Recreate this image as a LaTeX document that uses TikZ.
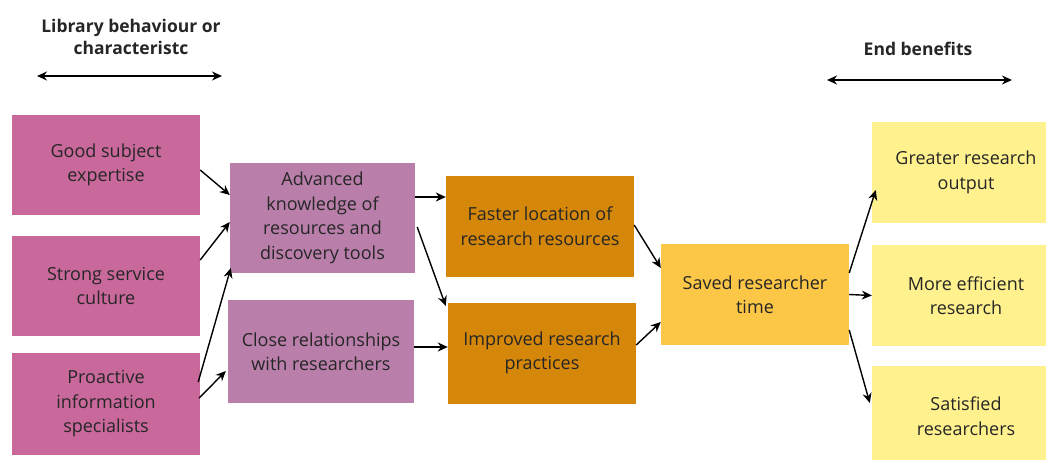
\documentclass[tikz,border=0pt]{standalone}
\usepackage{fontspec}
\setmainfont{Open Sans}
\usetikzlibrary{arrows.meta}
\definecolor{libpink}{HTML}{C8689B}
\definecolor{libmauve}{HTML}{B97FAA}
\definecolor{liborange}{HTML}{D5870A}
\definecolor{libgold}{HTML}{FCC647}
\definecolor{libyellow}{HTML}{FFF28E}
\begin{document}
\begin{tikzpicture}[x=1pt,y=-1pt,>={Stealth[length=10pt,width=9pt]},
		box/.style={minimum width=188pt,minimum height=101pt,inner sep=0pt,align=center,
			text=black!85,font=\fontsize{18}{24.5}\selectfont},
		arr/.style={->,line width=1.4pt},
		head/.style={align=center,font=\bfseries\fontsize{17.5}{22}\selectfont,text=black!85}]
	\clip (0,0) rectangle (1046,459);
	% Headers
	\node[head] (hleft) at (131,37) {Library behaviour or\\characteristc};
	\node[head] (hright) at (918,49) {End benefits};
	\draw[<->,line width=1.4pt] (37,76) -- (222,76);
	\draw[<->,line width=1.4pt] (827,80) -- (1012,80);
	% Library behaviour
	\node[box,fill=libpink,minimum height=100pt] (good) at (106,165) {Good subject\\expertise};
	\node[box,fill=libpink,minimum height=100pt] (strong) at (106,286) {Strong service\\culture};
	\node[box,fill=libpink,minimum height=102pt] (proact) at (106,404) {Proactive\\information\\specialists};
	% Intermediate outcomes
	\node[box,fill=libmauve,minimum width=185pt,minimum height=110pt] (adv) at (322.5,218) {Advanced\\knowledge of\\resources and\\discovery tools};
	\node[box,fill=libmauve,minimum width=186pt,minimum height=103pt] (close) at (321,351.5) {Close relationships\\with researchers};
	\node[box,fill=liborange] (faster) at (540,226) {Faster location of\\research resources};
	\node[box,fill=liborange] (improved) at (542,353) {Improved research\\practices};
	\node[box,fill=libgold] (saved) at (755,294.5) {Saved researcher\\time};
	% End benefits
	\node[box,fill=libyellow] (greater) at (966,172.5) {Greater research\\output};
	\node[box,fill=libyellow] (more) at (966,295.5) {More efficient\\research};
	\node[box,fill=libyellow] (satisf) at (966,416) {Satisfied\\researchers};
	% Connectors
	\draw[arr] ([yshift=-5pt]good.east) -- ([yshift=23pt]adv.west);
	\draw[arr] ([yshift=26pt]strong.east) -- ([yshift=-4pt]adv.west);
	\draw[arr] ([shift={(-2pt,22pt)}]proact.east) -- ([shift={(1pt,-50pt)}]adv.west);
	\draw[arr] ([shift={(-1pt,6pt)}]proact.east) -- ([shift={(-2pt,-19.5pt)}]close.west);
	\draw[arr] ([yshift=21pt]adv.east) -- ([yshift=29pt]faster.west);
	\draw[arr] ([shift={(2pt,-9pt)}]adv.east) -- ([shift={(-2pt,47pt)}]improved.west);
	\draw[arr] ([yshift=4.5pt]close.east) -- ([yshift=6pt]improved.west);
	\draw[arr] ([yshift=1pt]faster.east) -- ([yshift=26.5pt]saved.west);
	\draw[arr] ([yshift=8pt]improved.east) -- ([yshift=-27.5pt]saved.west);
	\draw[arr] ([yshift=21.5pt]saved.east) -- ([shift={(4pt,-17.5pt)}]greater.west);
	\draw[arr] (saved.east) -- (more.west);
	\draw[arr] ([yshift=-35.5pt]saved.east) -- ([shift={(-2pt,13pt)}]satisf.west);
\end{tikzpicture}
\end{document}
